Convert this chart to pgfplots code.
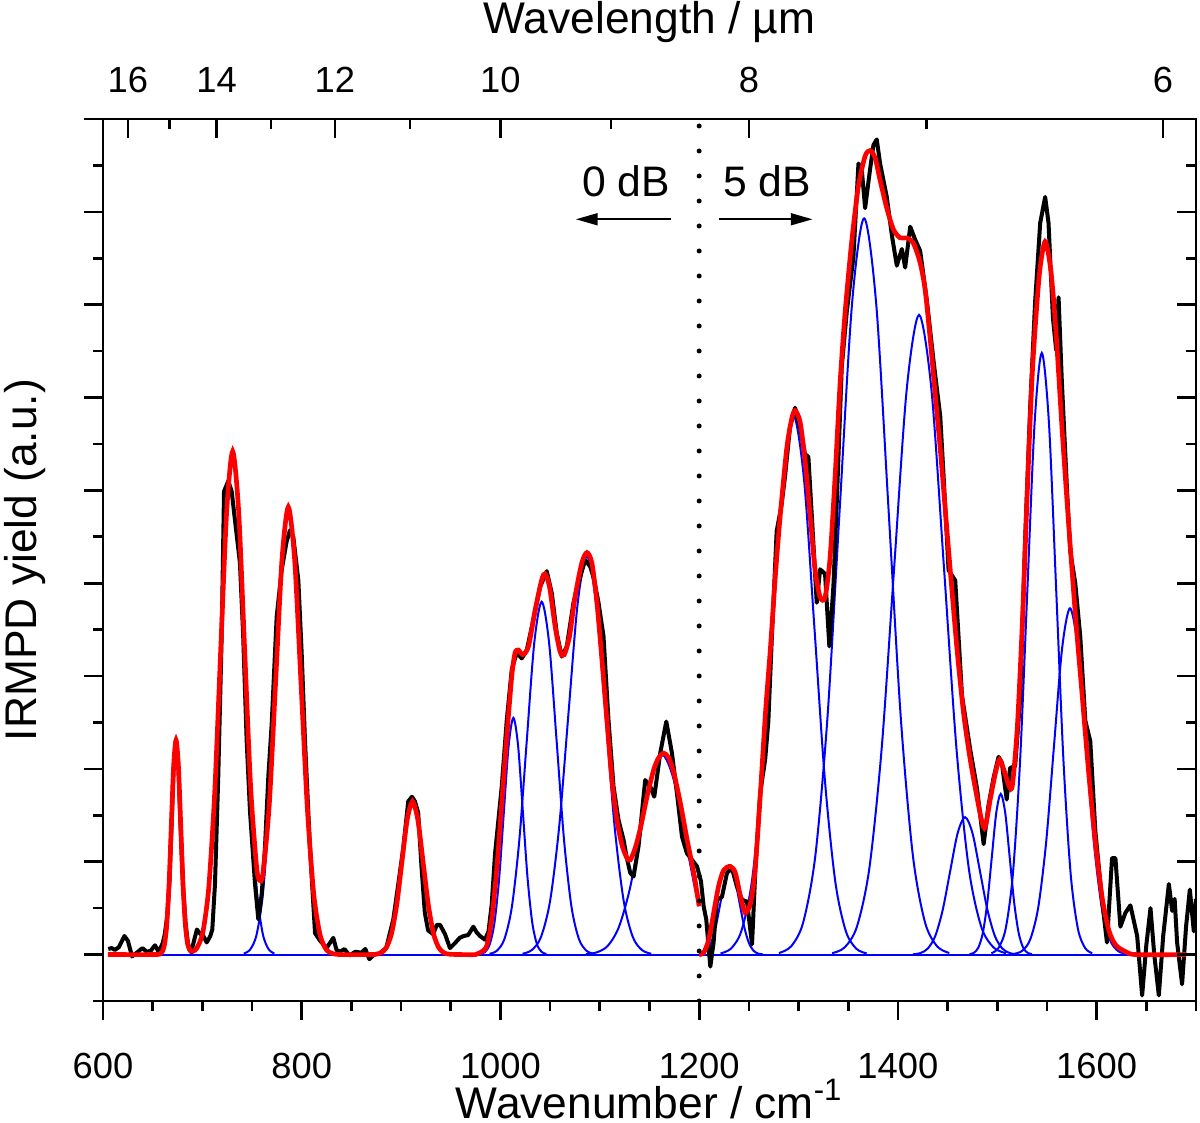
\documentclass[border=0pt]{standalone}
\usepackage{fontspec}
\setmainfont{Liberation Sans}
\usepackage{pgfplots}
\pgfplotsset{compat=1.18}
\usetikzlibrary{arrows.meta}
\begin{document}
\begin{tikzpicture}
\pgfplotsset{
  mybase/.style={
    at={(0pt,0pt)}, anchor=south west,
    scale only axis, width=327.9pt, height=264.6pt,
    xmin=600, xmax=1700, ymin=-0.5, ymax=9,
    axis line style={line width=0.85pt},
    every tick/.style={black, line width=0.8pt},
    major tick length=5.7pt, minor tick length=3pt,
    tick label style={font=\fontsize{10.9pt}{12pt}\selectfont},
    /pgf/number format/assume math mode=true,
    /pgf/number format/1000 sep={},
  },
  gau/.style={blue, line width=0.6pt, smooth},
}
\begin{axis}[mybase,
  tick align=outside,
  xtick pos=left, ytick pos=left,
  xtick={600,800,...,1600},
  minor xtick={650,700,750,850,900,950,1050,1100,1150,1250,1300,1350,1450,1500,1550,1650,1700},
  ytick={0,1,...,9}, yticklabels={},
  minor ytick={-0.5,0.5,...,8.5},
  xticklabel style={anchor=base, yshift=-17.7pt},
  xlabel={Wavenumber / cm\textsuperscript{-1}},
  ylabel={IRMPD yield (a.u.)},
  label style={font=\fontsize{13.3pt}{15pt}\selectfont},
  xlabel style={at={(axis description cs:0.5,-0.1327)}, anchor=base},
  ylabel style={at={(axis description cs:-0.0604,0.5)}, anchor=base},
]
% blue baseline
\addplot[blue, line width=0.6pt] coordinates {(605,0) (1700,0)};
% blue Gaussian components
\addplot[gau] coordinates {(657.05,0.005) (659.4,0.026) (661.75,0.101) (664.1,0.313) (666.45,0.750) (668.8,1.401) (671.15,2.039) (673.5,2.31) (675.85,2.039) (678.2,1.401) (680.55,0.750) (682.9,0.313) (685.25,0.101) (687.6,0.026) (689.95,0.005)};
\addplot[gau] coordinates {(688.5,0.012) (694.5,0.060) (700.5,0.238) (706.5,0.733) (712.5,1.760) (718.5,3.287) (724.5,4.783) (730.5,5.42) (736.5,4.783) (742.5,3.287) (748.5,1.760) (754.5,0.733) (760.5,0.238) (766.5,0.060) (772.5,0.012)};
\addplot[gau] coordinates {(741.7,0.011) (748.1,0.054) (754.5,0.212) (760.9,0.652) (767.3,1.565) (773.7,2.923) (780.1,4.254) (786.5,4.82) (792.9,4.254) (799.3,2.923) (805.7,1.565) (812.1,0.652) (818.5,0.212) (824.9,0.054) (831.3,0.011)};
\addplot[gau] coordinates {(874.4,0.004) (879.7,0.018) (885.0,0.072) (890.3,0.223) (895.6,0.536) (900.9,1.001) (906.2,1.456) (911.5,1.65) (916.8,1.456) (922.1,1.001) (927.4,0.536) (932.7,0.223) (938.0,0.072) (943.3,0.018) (948.6,0.004)};
\addplot[gau] coordinates {(979.75,0.006) (984.5,0.028) (989.25,0.112) (994.0,0.345) (998.75,0.828) (1003.5,1.547) (1008.25,2.250) (1013,2.55) (1017.75,2.250) (1022.5,1.547) (1027.25,0.828) (1032.0,0.345) (1036.75,0.112) (1041.5,0.028) (1046.25,0.006)};
\addplot[gau] coordinates {(989.0,0.008) (996.5,0.042) (1004.0,0.167) (1011.5,0.514) (1019.0,1.234) (1026.5,2.305) (1034.0,3.354) (1041.5,3.80) (1049.0,3.354) (1056.5,2.305) (1064.0,1.234) (1071.5,0.514) (1079.0,0.167) (1086.5,0.042) (1094.0,0.008)};
\addplot[gau] coordinates {(1022.25,0.009) (1031.5,0.048) (1040.75,0.188) (1050.0,0.580) (1059.25,1.393) (1068.5,2.602) (1077.75,3.786) (1087,4.29) (1096.25,3.786) (1105.5,2.602) (1114.75,1.393) (1124.0,0.580) (1133.25,0.188) (1142.5,0.048) (1151.75,0.009)};
\addplot[gau] coordinates {(1086,0.005) (1097,0.024) (1108,0.094) (1119,0.291) (1130,0.698) (1141,1.304) (1152,1.897) (1163,2.15) (1174,1.897) (1185,1.304) (1196,0.698) (1200,0.523)};
\addplot[gau] coordinates {(1200,0.005) (1202.5,0.010) (1207.25,0.041) (1212,0.126) (1216.75,0.302) (1221.5,0.564) (1226.25,0.821) (1231,0.93) (1235.75,0.821) (1240.5,0.564) (1245.25,0.302) (1250,0.126) (1254.75,0.041) (1259.5,0.010) (1264.25,0.002)};
\addplot[gau] coordinates {(1221.5,0.013) (1232,0.064) (1242.5,0.255) (1253,0.785) (1263.5,1.883) (1274,3.518) (1284.5,5.119) (1295,5.8) (1305.5,5.119) (1316,3.518) (1326.5,1.883) (1337,0.785) (1347.5,0.255) (1358,0.064) (1368.5,0.013)};
\addplot[gau] coordinates {(1280.25,0.017) (1292.5,0.088) (1304.75,0.348) (1317,1.073) (1329.25,2.575) (1341.5,4.810) (1353.75,6.998) (1366,7.93) (1378.25,6.998) (1390.5,4.810) (1402.75,2.575) (1415,1.073) (1427.25,0.348) (1439.5,0.088) (1451.75,0.017)};
\addplot[gau] coordinates {(1333.8,0.015) (1346.3,0.076) (1358.8,0.302) (1371.3,0.932) (1383.8,2.237) (1396.3,4.179) (1408.8,6.080) (1421.3,6.89) (1433.8,6.080) (1446.3,4.179) (1458.8,2.237) (1471.3,0.932) (1483.8,0.302) (1496.3,0.076) (1508.8,0.015)};
\addplot[gau] coordinates {(1415.1,0.003) (1422.6,0.016) (1430.1,0.065) (1437.6,0.200) (1445.1,0.481) (1452.6,0.898) (1460.1,1.306) (1467.6,1.48) (1475.1,1.306) (1482.6,0.898) (1490.1,0.481) (1497.6,0.200) (1505.1,0.065) (1512.6,0.016) (1520.1,0.003)};
\addplot[gau] coordinates {(1472,0.004) (1476.5,0.019) (1481,0.076) (1485.5,0.234) (1490,0.562) (1494.5,1.049) (1499,1.527) (1503.5,1.73) (1508,1.527) (1512.5,1.049) (1517,0.562) (1521.5,0.234) (1526,0.076) (1530.5,0.019) (1535,0.004)};
\addplot[gau] coordinates {(1494.05,0.014) (1501.3,0.072) (1508.55,0.284) (1515.8,0.877) (1523.05,2.104) (1530.3,3.930) (1537.55,5.719) (1544.8,6.48) (1552.05,5.719) (1559.3,3.930) (1566.55,2.104) (1573.8,0.877) (1581.05,0.284) (1588.3,0.072) (1595.55,0.014)};
\addplot[gau] coordinates {(1517.2,0.008) (1525.2,0.041) (1533.2,0.164) (1541.2,0.505) (1549.2,1.211) (1557.2,2.262) (1565.2,3.292) (1573.2,3.73) (1581.2,3.292) (1589.2,2.262) (1597.2,1.211) (1605.2,0.505) (1613.2,0.164) (1621.2,0.041) (1629.2,0.008)};
% experimental IRMPD trace
\addplot[black, line width=1.2pt, line join=round] coordinates {
(605.3,0.06) (608.7,0.07) (612,0.05) (616,0.08) (621.5,0.20) (625,0.15) (629.2,-0.02) (634,0.02) (639.7,0.07) (644,0.03) (648,0.04) (652.3,0.10) (656,0.03) (660,0.12) (662,0.21) (664.5,0.40) (667,0.80) (669,1.40) (671,2.00) (673.5,2.30) (676,2.00) (678,1.40) (680.5,0.75) (683,0.35) (685.5,0.12) (687,0.05) (690,0.08) (694.5,0.27) (698,0.22) (700,0.22) (704.4,0.13) (708,0.20) (710,0.27) (712.7,0.76) (716,1.92) (719.5,3.46) (721.8,4.99) (726.1,5.10) (729.5,4.99) (732.8,4.68) (737.8,4.22) (741,3.46) (744.6,2.30) (748,1.53) (753,0.76) (756.3,0.38) (759.7,0.65) (763,1.15) (766.4,1.92) (769.8,2.49) (774.8,3.64) (779.8,4.14) (784.8,4.45) (788.2,4.57) (791.5,4.50) (796.6,4.03) (799.9,3.26) (803.3,2.30) (808.3,1.15) (813.4,0.23) (818.4,0.15) (825,0.07) (831.8,0.18) (835,0.05) (838.6,0.03) (843,0.06) (848,-0.01) (854,0.03) (860,0.02) (864,0.06) (868,-0.05) (873,0.0) (878,0.01) (885,0.07) (892.2,0.38) (897.2,0.76) (902.2,1.15) (907.2,1.65) (911,1.70) (913.9,1.65) (917.2,1.53) (920.5,0.95) (923.9,0.45) (927.2,0.26) (932.2,0.22) (936,0.32) (939.2,0.32) (944.2,0.22) (949.2,0.07) (954,0.12) (959,0.18) (963,0.20) (967.5,0.21) (972.7,0.30) (976,0.24) (979.4,0.20) (984.4,0.16) (988,0.25) (991.2,0.54) (994.6,1.09) (1001.3,1.81) (1006.4,2.53) (1011.4,3.07) (1016.4,3.25) (1021.5,3.19) (1026.5,3.28) (1033.2,3.61) (1039.9,3.96) (1046.6,4.13) (1051.7,3.89) (1056.7,3.46) (1061.7,3.21) (1066.8,3.32) (1073.5,3.79) (1078.5,4.00) (1085.2,4.25) (1090.3,4.18) (1094,4.05) (1098.7,3.79) (1103.7,3.43) (1108.7,2.53) (1113.8,1.81) (1118.8,1.45) (1123.8,1.24) (1127,1.05) (1130.6,0.88) (1134,0.84) (1139,1.17) (1145.7,1.88) (1150.8,1.81) (1154.8,1.70) (1160.8,2.17) (1166.9,2.51) (1172.6,2.17) (1177.6,1.74) (1182.7,1.27) (1187.7,1.09) (1192.8,1.02) (1197.8,0.95) (1201.8,0.79) (1204.5,0.52) (1207.1,0.38) (1211.2,-0.13) (1214.5,0.13) (1217.9,0.59) (1222.9,0.62) (1228,0.88) (1233,0.93) (1238,0.73) (1243.1,0.59) (1248.1,0.57) (1253.2,0.11) (1256.5,0.90) (1261.4,1.74) (1266.4,2.10) (1269.6,2.51) (1273,3.38) (1278,4.56) (1283,4.85) (1286.4,5.15) (1291.4,5.68) (1296.5,5.89) (1301.5,5.68) (1306.5,5.39) (1309.9,5.36) (1313.3,4.74) (1318.3,3.79) (1321.7,4.15) (1326.7,4.10) (1331,3.32) (1335.1,3.97) (1338.4,4.85) (1343.5,6.33) (1348.5,6.92) (1355.2,7.51) (1360.3,8.52) (1363.6,8.46) (1367,8.04) (1372,8.46) (1375.4,8.72) (1378.7,8.78) (1382.1,8.52) (1388.8,8.16) (1393.9,7.75) (1398.9,7.42) (1404,7.60) (1407.3,7.40) (1412.4,7.84) (1417.4,7.70) (1422.4,7.58) (1429.2,7.04) (1435.9,6.39) (1442.6,5.80) (1446,5.15) (1451,4.14) (1457.7,4.03) (1464.5,2.79) (1472.9,2.20) (1479.6,1.79) (1486.3,1.19) (1491.2,1.61) (1496.2,1.90) (1501.3,2.13) (1504.5,2.07) (1509.5,1.67) (1512.9,2.01) (1518,2.03) (1523,2.75) (1528,4.46) (1533.1,5.89) (1538.1,7.03) (1543.2,7.88) (1548.2,8.16) (1551.6,7.88) (1556,6.86) (1559.3,6.51) (1561.7,7.08) (1565,6.17) (1570.1,5.03) (1573.4,4.35) (1578.5,4.00) (1583.5,3.43) (1588.6,2.52) (1593.6,2.30) (1598.7,1.33) (1605.4,0.59) (1610.4,0.13) (1615.5,1.04) (1618.9,1.04) (1623.9,0.30) (1629,0.45) (1634,0.53) (1640.8,0.20) (1645.8,-0.44) (1650,0.10) (1654.2,0.50) (1658,0.00) (1662.6,-0.44) (1667,0.20) (1672.7,0.76) (1676,0.47) (1678.5,0.60) (1681,0.13) (1686,-0.32) (1690,0.30) (1693.8,0.70) (1697.8,0.25) (1700,0.60)};
% fit, 0 dB part
\addplot[red, line width=1.4pt, smooth, tension=0.45] coordinates {
(605,0) (650,0) (657,0.005) (659.4,0.026) (661.75,0.10) (664.1,0.31) (666.45,0.75) (668.8,1.40) (671.15,2.04) (673.5,2.31) (675.85,2.04) (678.2,1.40) (680.55,0.75) (682.9,0.32) (685.25,0.11) (688,0.04) (691,0.04) (694.5,0.07) (700.5,0.24) (706.5,0.73) (712.5,1.76) (718.5,3.29) (724.5,4.78) (730.5,5.42) (736.5,4.78) (742.5,3.30) (748.5,1.82) (754.5,0.95) (757.5,0.80) (760.9,0.87) (767.3,1.61) (773.7,2.93) (780.1,4.25) (786.5,4.82) (792.9,4.25) (799.3,2.92) (805.7,1.57) (812.1,0.65) (818.5,0.21) (824.9,0.05) (831.3,0.01) (840,0) (870,0) (874.4,0.004) (879.7,0.018) (885.0,0.072) (890.3,0.223) (895.6,0.536) (900.9,1.001) (906.2,1.456) (911.5,1.65) (916.8,1.456) (922.1,1.001) (927.4,0.536) (932.7,0.223) (938.0,0.072) (943.3,0.018) (948.6,0.004) (960,0) (975,0) (979.4,0.02) (986.1,0.09) (991.2,0.38) (996.2,0.91) (1001.3,1.63) (1006.4,2.35) (1011.4,3.0) (1014.7,3.25) (1018.1,3.28) (1022.5,3.23) (1028.2,3.32) (1034.9,3.71) (1041.6,4.04) (1045,4.10) (1049.4,3.96) (1055.1,3.53) (1060.1,3.26) (1064.2,3.23) (1069.5,3.43) (1075.2,3.86) (1081.9,4.22) (1087,4.33) (1092,4.22) (1097.1,3.79) (1102.1,3.18) (1107.1,2.53) (1112.2,1.88) (1117.2,1.45) (1122.3,1.18) (1127.3,1.04) (1130.7,1.02) (1135.7,1.15) (1140.8,1.36) (1147.5,1.70) (1154.2,1.99) (1159.2,2.12) (1164.3,2.17) (1169.3,2.12) (1174.4,1.96) (1181.1,1.63) (1187.8,1.24) (1194.5,0.88) (1200,0.52)};
% fit, 5 dB part
\addplot[red, line width=1.4pt, smooth, tension=0.45] coordinates {
(1200,0) (1204.5,0.02) (1209.6,0.16) (1214.6,0.45) (1219.6,0.74) (1224.7,0.91) (1231.4,0.95) (1236.4,0.88) (1241.5,0.63) (1246.3,0.45) (1251.6,0.55) (1256,0.88) (1261.4,1.70) (1266.7,2.60) (1271.7,3.30) (1276.8,4.10) (1281.5,4.72) (1288.1,5.45) (1293.1,5.77) (1296.5,5.86) (1301.5,5.74) (1306.5,5.33) (1311.6,4.74) (1316.6,4.15) (1321.7,3.85) (1326.7,3.85) (1331.7,4.27) (1336.8,5.15) (1341.8,6.15) (1346.9,6.92) (1353.6,7.69) (1360.3,8.28) (1367,8.60) (1372,8.66) (1377.1,8.58) (1382.1,8.34) (1388.8,8.04) (1395.5,7.81) (1402.2,7.72) (1408.9,7.72) (1415.7,7.66) (1422.4,7.45) (1427.4,7.16) (1432.5,6.63) (1437.5,6.04) (1442.6,5.45) (1447.6,4.80) (1452.6,4.15) (1459.4,3.30) (1466.1,2.60) (1472.8,2.10) (1479.5,1.70) (1484.6,1.43) (1487.9,1.37) (1492.9,1.67) (1498,1.95) (1502.3,2.10) (1506.9,1.98) (1512,1.81) (1515.3,1.83) (1520.3,2.47) (1525.4,3.61) (1530.4,5.03) (1535.4,6.29) (1542.2,7.31) (1548.2,7.68) (1553.9,7.37) (1558.9,6.74) (1565.6,5.60) (1572.3,4.57) (1579,3.61) (1585.8,2.75) (1592.5,1.90) (1599.2,1.16) (1605.9,0.59) (1612.6,0.25) (1619.4,0.10) (1629.4,0.03) (1639.5,0) (1690,0)};
% separation and annotations
\draw[line width=1.5pt, line cap=round, dash pattern=on 0pt off 7.5pt] (axis cs:1200,-0.5) -- (axis cs:1200,9);
\node[anchor=base, font=\fontsize{12.8pt}{14pt}\selectfont] at (axis cs:1126.3,8.16) {0 dB};
\node[anchor=base, font=\fontsize{12.8pt}{14pt}\selectfont] at (axis cs:1268.3,8.16) {5 dB};
\draw[line width=0.5pt, -{Triangle[length=6.5pt,width=3.6pt]}] (axis cs:1171.4,7.92) -- (axis cs:1076,7.92);
\draw[line width=0.5pt, -{Triangle[length=6.5pt,width=3.6pt]}] (axis cs:1219.6,7.92) -- (axis cs:1314,7.92);
\end{axis}
\begin{axis}[mybase,
  tick align=inside,
  xtick pos=right, ytick pos=right, xticklabel pos=right,
  xtick={625,714.2857,833.3333,1000,1250,1666.6667},
  xticklabels={16,14,12,10,8,6},
  minor xtick={666.6667,769.2308,909.0909,1111.1111,1428.5714},
  ytick={0,1,...,9}, yticklabels={},
  minor ytick={-0.5,0.5,...,8.5},
  xticklabel style={anchor=base, yshift=7.9pt},
  title={Wavelength / µm},
  title style={at={(axis description cs:0.5,1.0748)}, anchor=base, font=\fontsize{13.3pt}{15pt}\selectfont},
]
\end{axis}
\pgfresetboundingbox
\path[use as bounding box] (-30.9pt,-36.6pt) rectangle (329.1pt,300.3pt);
\end{tikzpicture}
\end{document}
